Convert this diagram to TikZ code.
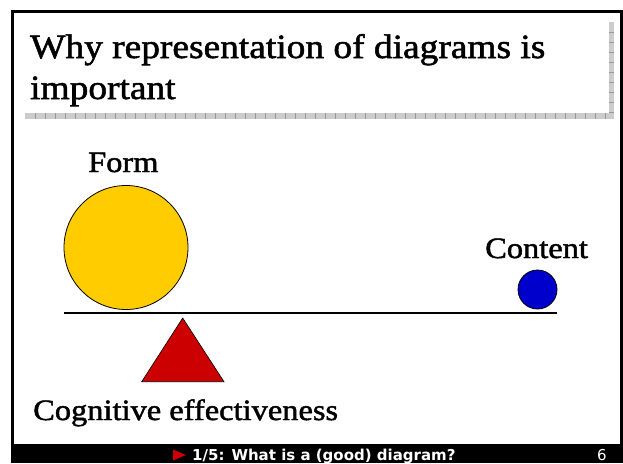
\documentclass[tikz,border=0pt]{standalone}
\usepackage{fontspec}
\setmainfont[FakeStretch=1.1,FakeBold=1.6]{Liberation Serif}
\newfontfamily\footfont{DejaVu Sans}
\definecolor{formyellow}{RGB}{255,204,0}
\definecolor{contentblue}{RGB}{0,0,204}
\definecolor{fulcrumred}{RGB}{204,0,0}
\definecolor{shadowgray}{RGB}{204,204,204}
\begin{document}
\begin{tikzpicture}[x=1pt,y=-1pt,
  ttl/.style={anchor=base west, inner sep=0, font=\fontsize{34}{41}\selectfont},
  lbl/.style={anchor=base west, inner sep=0, font=\fontsize{29.5}{30}\selectfont},
  ftr/.style={anchor=base west, inner sep=0, text=white, font=\footfont\bfseries\fontsize{15}{15}\selectfont},
  ball/.style={circle, draw=black, line width=0.8, inner sep=0}]
\useasboundingbox (0,0) rectangle (623,463);
% frame and footer band
\fill[black] (11,10) rectangle (623,463);
\fill[white] (14,13) rectangle (620,444);
% title shadow bars
\fill[shadowgray] (609,22) rectangle (614,119);
\fill[shadowgray] (25,113) rectangle (614,119);
\foreach \x in {35,45,...,605} \draw[gray!80, line width=0.4] (\x,113) -- (\x,119);
\foreach \y in {32,42,...,112} \draw[gray!80, line width=0.4] (609,\y) -- (614,\y);
% title
\node[ttl] (t1) at (30,58) {Why representation of diagrams is};
\node[ttl] (t2) at (30,99) {important};
% balance
\coordinate (bl) at (64,312.7);
\coordinate (br) at (557,312.7);
\draw[line width=2] (bl) -- (br);
\node[ball, fill=formyellow, minimum size=124] (form) at (126,247.5) {};
\node[ball, fill=contentblue, minimum size=39] (content) at (537.5,289.5) {};
\draw[fill=fulcrumred, line width=0.6] (182.7,318) -- (224,381.7) -- (141.7,381.7) -- cycle;
% labels
\node[lbl] (formlbl) at (88,172) {Form};
\node[lbl] (contentlbl) at (485,258) {Content};
\node[lbl] (coglbl) at (33,420) {Cognitive effectiveness};
% footer
\fill[fulcrumred] (173,449.5) -- (186,455) -- (173,460.5) -- cycle;
\node[ftr] (foot) at (192,460.5) {1/5: What is a (good) diagram?};
\node[ftr, font=\footfont\fontsize{15}{15}\selectfont] (page) at (597,460.5) {6};
\end{tikzpicture}
\end{document}
